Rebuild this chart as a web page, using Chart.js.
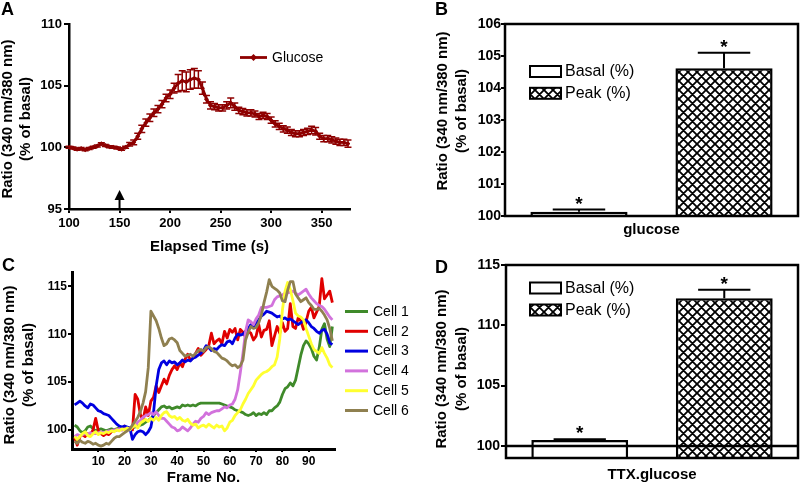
<!DOCTYPE html>
<html>
<head>
<meta charset="utf-8">
<script src="https://cdn.jsdelivr.net/npm/chart.js@4.4.0/dist/chart.umd.min.js"></script>
<style>
body{margin:0;background:#fff;width:800px;height:489px;position:relative;overflow:hidden;font-family:'Liberation Sans',Arial,sans-serif;}
canvas{position:absolute;}
.letter{position:absolute;font-weight:bold;font-size:18px;line-height:18px;color:#000;}
</style>
</head>
<body>
<canvas id="chartA" width="400" height="256" style="left:0;top:0"></canvas>
<canvas id="chartB" width="400" height="250" style="left:400px;top:0"></canvas>
<canvas id="chartC" width="410" height="249" style="left:0;top:240px"></canvas>
<canvas id="chartD" width="400" height="249" style="left:400px;top:240px"></canvas>
<div class="letter" style="left:1px;top:0">A</div>
<div class="letter" style="left:435px;top:0">B</div>
<div class="letter" style="left:2px;top:256px">C</div>
<div class="letter" style="left:435px;top:258px">D</div>
<script>
// =========================================
// DATA
// =========================================

// A: glucose time course (mean +/- SEM)
const timeA = [100,104,108,112,116,120,124,128,132,136,140,144,148,152,156,160,164,168,172,176,
    180,184,188,192,196,200,204,208,212,216,220,224,228,232,236,240,244,248,252,256,
    260,264,268,272,276,280,284,288,292,296,300,304,308,312,316,320,324,328,332,336,
    340,344,348,352,356,360,364,368,372,376];
const glucoseA = [100.0,99.95,99.85,99.9,99.8,99.9,100.0,100.1,100.3,100.15,100.05,100.0,99.95,99.85,100.0,100.25,100.4,100.9,101.5,102.0,
    102.4,102.8,103.1,103.5,104.0,104.3,104.8,105.2,105.4,105.3,105.5,105.6,105.5,104.8,103.9,103.4,103.3,103.2,103.2,103.4,
    103.6,103.3,103.0,102.9,102.8,102.8,102.7,102.5,102.6,102.5,102.2,101.9,101.7,101.5,101.4,101.2,101.1,101.1,101.2,101.3,
    101.4,101.3,100.9,100.7,100.7,100.6,100.5,100.4,100.4,100.3];
const semA = [0.08,0.08,0.08,0.08,0.08,0.08,0.08,0.08,0.08,0.08,0.08,0.08,0.08,0.08,0.08,0.15,0.2,0.25,0.3,0.3,
    0.3,0.3,0.3,0.3,0.3,0.35,0.4,0.7,0.8,0.8,0.8,0.8,0.7,0.5,0.3,0.3,0.25,0.25,0.25,0.3,
    0.4,0.3,0.25,0.25,0.25,0.25,0.25,0.25,0.25,0.25,0.25,0.25,0.25,0.25,0.25,0.25,0.25,0.25,0.25,0.25,
    0.3,0.3,0.25,0.25,0.25,0.25,0.25,0.25,0.25,0.3];
const ticksXA = [100,150,200,250,300,350];
const ticksYA = [95,100,105,110];
const arrowAtA = 150;

// B: glucose bars
const groupB = ['glucose'];
const basalB = [100.13];
const basalErrB = [0.07];
const peakB = [104.62];
const peakErrB = [0.48];
const ticksYB = [100,101,102,103,104,105,106];

// C: single cells
const frameC = [1,2,3,4,5,6,7,8,9,10,11,12,13,14,15,16,17,18,19,20,21,22,23,24,25,26,27,28,29,30,
    31,32,33,34,35,36,37,38,39,40,41,42,43,44,45,46,47,48,49,50,51,52,53,54,55,56,57,58,59,60,
    61,62,63,64,65,66,67,68,69,70,71,72,73,74,75,76,77,78,79,80,81,82,83,84,85,86,87,88,89,90,
    91,92,93,94,95,96,97,98,99];
const cell1 = [100.5,100.3,99.9,99.7,99.9,100.3,100.4,100.1,99.9,100.0,
    100.1,100.0,99.9,100.0,100.1,100.0,100.1,100.2,100.1,100.2,
    100.0,100.1,100.2,100.3,100.4,100.5,100.6,100.8,101.0,101.2,
    101.5,101.8,102.1,102.4,102.5,102.3,102.4,102.2,102.3,102.4,
    102.3,102.6,102.5,102.6,102.5,102.6,102.5,102.7,102.8,102.8,
    102.8,102.8,102.8,102.8,102.8,102.8,102.7,102.6,102.5,102.4,
    102.3,102.1,102.0,101.9,101.8,101.6,101.5,101.6,101.8,101.5,
    101.7,101.6,101.8,101.6,102.0,102.0,102.3,102.5,102.9,103.7,
    104.3,104.5,104.9,104.6,105.2,106.5,107.8,108.8,109.3,109.0,
    108.5,107.7,107.3,108.6,110.5,111.1,109.5,108.7,110.8];
const cell2 = [99.2,98.4,99.3,99.5,99.3,99.6,99.5,100.0,101.2,99.9,
    99.6,99.4,99.6,99.5,99.8,99.9,100.0,100.1,100.0,100.4,
    100.0,100.2,100.0,103.7,103.2,101.6,101.0,102.4,101.5,103.0,
    103.4,104.6,103.9,104.6,105.3,104.8,105.7,106.3,106.7,106.3,
    107.0,106.6,107.4,107.9,107.3,107.5,108.0,108.5,107.8,108.1,
    108.4,108.8,110.1,109.0,109.3,109.5,109.0,110.3,109.6,110.5,
    110.2,110.6,109.4,110.5,110.2,109.7,110.3,110.1,109.4,109.8,
    111.0,109.7,110.4,110.5,111.4,108.8,109.8,110.8,110.1,111.2,
    110.3,110.6,113.2,110.8,110.6,111.7,111.4,110.5,111.3,112.4,
    112.8,111.7,112.3,112.9,115.8,113.7,114.1,114.5,113.3];
const cell3 = [102.6,102.8,103.0,102.8,102.5,102.3,102.7,102.6,102.3,102.0,
    101.9,101.7,101.6,101.5,101.2,100.9,100.6,100.4,100.3,100.4,
    100.3,100.2,99.0,99.5,99.8,99.9,99.8,99.5,99.8,100.3,
    101.8,104.6,106.3,107.0,107.2,106.8,107.2,107.0,107.1,106.8,
    107.0,107.3,107.1,107.3,107.2,107.5,107.6,107.8,108.0,108.3,
    108.8,108.6,108.3,108.5,108.4,108.7,108.9,108.8,109.2,109.3,
    109.0,109.6,110.0,109.9,110.0,110.3,110.6,111.0,110.8,111.2,
    111.5,111.9,112.1,112.4,112.3,112.2,112.0,111.8,111.9,111.6,
    111.7,111.5,111.6,111.4,111.2,111.0,111.2,111.4,111.5,111.2,
    110.8,110.6,110.3,110.1,110.4,110.5,110.0,109.1,108.9];
const cell4 = [99.3,99.5,99.4,99.5,99.6,99.5,99.7,99.6,99.6,99.7,
    99.8,99.7,99.8,99.9,99.9,100.0,100.0,100.1,100.0,100.1,
    100.0,100.2,100.3,100.4,100.8,101.0,101.3,101.5,101.6,101.8,
    101.6,101.9,101.5,101.2,101.2,100.9,100.6,100.3,100.2,99.9,
    100.0,100.3,100.1,99.9,100.2,100.6,100.9,100.8,101.2,101.4,
    101.8,101.6,101.8,101.9,102.0,102.0,102.2,102.4,102.3,102.6,
    102.7,103.2,104.2,106.0,108.0,110.3,111.5,111.3,111.0,111.6,
    112.0,112.8,112.8,112.8,112.9,113.0,113.6,113.9,114.0,114.1,
    114.3,114.3,114.4,114.5,114.3,114.1,114.3,114.5,114.7,114.2,
    113.8,113.5,113.2,113.0,112.9,112.6,112.2,111.8,111.5];
const cell5 = [99.3,99.0,99.3,99.6,99.8,99.4,99.3,99.6,99.8,99.5,
    99.7,99.6,99.8,99.7,99.9,99.8,100.0,99.9,100.1,100.0,
    100.2,100.0,100.3,100.5,100.2,100.7,100.9,101.1,100.9,101.2,
    101.0,101.3,101.0,101.5,101.8,101.9,101.5,101.3,101.4,101.1,
    101.3,101.0,100.9,101.1,100.7,100.5,100.6,100.2,100.4,100.5,
    100.3,100.6,100.4,100.2,100.5,100.3,100.4,99.9,100.2,100.8,
    101.0,101.5,101.8,102.1,102.7,103.2,103.8,104.2,104.6,105.2,
    105.5,105.8,106.0,106.1,106.3,106.6,106.8,107.6,109.5,112.5,
    114.5,115.4,114.7,113.5,112.2,111.9,111.8,111.5,110.6,109.8,
    109.0,108.4,108.2,108.0,108.6,108.0,107.5,106.8,106.5];
const cell6 = [98.8,98.6,98.9,98.7,98.6,98.8,98.7,98.5,98.6,98.4,
    98.3,98.4,98.6,98.5,98.8,99.1,99.3,99.3,99.5,99.7,
    99.9,100.1,100.5,100.9,101.3,101.9,102.8,104.0,106.5,112.4,
    111.9,111.4,110.6,109.6,108.8,109.0,109.5,109.6,109.4,109.1,
    108.3,108.0,107.7,107.8,107.9,107.7,108.0,108.3,108.4,108.2,
    108.6,108.7,108.5,108.2,108.1,107.8,107.5,107.4,107.2,106.9,
    106.7,106.8,106.5,106.7,107.3,109.4,110.2,110.8,110.6,110.7,
    111.2,112.0,113.3,114.4,115.7,115.0,114.8,114.6,114.3,113.5,
    113.4,114.6,115.5,115.5,114.2,113.8,113.4,113.6,113.8,113.3,
    113.0,112.6,112.6,112.7,112.4,112.0,111.5,110.6,109.3];
const cellNames = ['Cell 1','Cell 2','Cell 3','Cell 4','Cell 5','Cell 6'];
const ticksXC = [10,20,30,40,50,60,70,80,90];
const ticksYC = [100,105,110,115];

// D: TTX + glucose bars
const groupD = ['TTX.glucose'];
const basalD = [100.5];
const basalErrD = [0.05];
const peakD = [112.25];
const peakErrD = [0.7];
const ticksYD = [100,105,110,115];

// =========================================
// STYLE
// =========================================

const FONT = "'Liberation Sans', Arial, Helvetica, sans-serif";
const DARKRED = '#8e0000';
const cellColors = ['#3f8a2a','#e00000','#0000e0','#d272dc','#ffff30','#8f8050'];
const yTitle = ['Ratio (340 nm/380 nm)','(% of basal)'];

Chart.defaults.font.family = FONT;
Chart.defaults.color = '#000';

function makeHatch(){
    const c = document.createElement('canvas');
    c.width = 9; c.height = 9;
    const g = c.getContext('2d');
    g.fillStyle = '#fff';
    g.fillRect(0,0,9,9);
    g.strokeStyle = '#000';
    g.lineWidth = 1.8;
    g.beginPath();
    for(const k of [-9,0,9]){
        g.moveTo(k-1,-1); g.lineTo(k+10,10);
        g.moveTo(k+10,-1); g.lineTo(k-1,10);
    }
    g.stroke();
    return g.createPattern(c,'repeat');
}
const hatch = makeHatch();

function drawYTitle(ctx, xs, cy){
    ctx.save();
    ctx.font = 'bold 15px ' + FONT;
    ctx.fillStyle = '#000';
    ctx.textAlign = 'center';
    ctx.textBaseline = 'middle';
    yTitle.forEach((t,i)=>{
        ctx.save();
        ctx.translate(xs[i], cy);
        ctx.rotate(-Math.PI/2);
        ctx.fillText(t,0,0);
        ctx.restore();
    });
    ctx.restore();
}

function fixedTicks(list){
    return function(scale){
        scale.ticks = list.map(v => ({value:v}));
    };
}

function axisY(min, max, list, width, size, tl, pad){
    return {
        min:min, max:max,
        afterFit(s){ s.width = width; },
        afterBuildTicks: fixedTicks(list),
        grid:{drawOnChartArea:false, color:'#000', lineWidth:2, tickLength:tl},
        border:{display:true, color:'#000', width:2.5},
        ticks:{font:{size:size, weight:'bold'}, padding:pad, color:'#000', autoSkip:false}
    };
}

const baseOptions = {
    responsive:false,
    animation:false,
    events:[],
    plugins:{legend:{display:false}, tooltip:{enabled:false}}
};

// =========================================
// PANEL A
// =========================================

const panelA = {
    id:'panelA',
    beforeDatasetsDraw(chart){
        const {ctx, scales:{x, y}} = chart;
        ctx.save();
        ctx.strokeStyle = DARKRED;
        ctx.lineWidth = 1.5;
        timeA.forEach((t,i)=>{
            const px = x.getPixelForValue(t);
            const top = y.getPixelForValue(glucoseA[i] + semA[i]);
            const bot = y.getPixelForValue(glucoseA[i] - semA[i]);
            ctx.beginPath();
            ctx.moveTo(px, top); ctx.lineTo(px, bot);
            ctx.moveTo(px-3.5, top); ctx.lineTo(px+3.5, top);
            ctx.moveTo(px-3.5, bot); ctx.lineTo(px+3.5, bot);
            ctx.stroke();
        });
        ctx.restore();
    },
    afterDraw(chart){
        const {ctx, chartArea, scales:{x}} = chart;
        // arrow at glucose application
        const ax = x.getPixelForValue(arrowAtA);
        const tip = chartArea.bottom - 19;
        ctx.save();
        ctx.strokeStyle = '#000';
        ctx.fillStyle = '#000';
        ctx.lineWidth = 2;
        ctx.beginPath();
        ctx.moveTo(ax, chartArea.bottom);
        ctx.lineTo(ax, tip + 6);
        ctx.stroke();
        ctx.beginPath();
        ctx.moveTo(ax, tip);
        ctx.lineTo(ax - 5, tip + 10);
        ctx.lineTo(ax + 5, tip + 10);
        ctx.closePath();
        ctx.fill();
        // legend
        ctx.strokeStyle = DARKRED;
        ctx.fillStyle = DARKRED;
        ctx.lineWidth = 2.8;
        ctx.beginPath();
        ctx.moveTo(240, 57.5); ctx.lineTo(267, 57.5);
        ctx.stroke();
        ctx.beginPath();
        ctx.moveTo(253.5, 54); ctx.lineTo(257, 57.5); ctx.lineTo(253.5, 61); ctx.lineTo(250, 57.5);
        ctx.closePath();
        ctx.fill();
        ctx.fillStyle = '#000';
        ctx.font = '14px ' + FONT;
        ctx.textBaseline = 'middle';
        ctx.fillText('Glucose', 272, 58);
        ctx.restore();
        drawYTitle(ctx, [8, 26], 119);
    }
};

new Chart(document.getElementById('chartA'), {
    type:'line',
    data:{
        datasets:[{
            label:'Glucose',
            data: timeA.map((t,i)=>({x:t, y:glucoseA[i]})),
            borderColor:DARKRED,
            backgroundColor:DARKRED,
            borderWidth:2.8,
            pointStyle:'rectRot',
            pointRadius:2.5,
            pointBorderWidth:0,
            tension:0
        }]
    },
    options:{
        ...baseOptions,
        layout:{padding:{top:24, right:50, left:0, bottom:0}},
        scales:{
            x:{
                type:'linear', min:100, max:378,
                afterFit(s){ s.height = 47; },
                afterBuildTicks: fixedTicks(ticksXA),
                grid:{drawOnChartArea:false, color:'#000', lineWidth:2, tickLength:4},
                border:{display:true, color:'#000', width:2.5},
                ticks:{font:{size:13, weight:'bold'}, padding:3, maxRotation:0, autoSkip:false, color:'#000'},
                title:{display:true, text:'Elapsed Time (s)', font:{size:15, weight:'bold'}, padding:0, color:'#000'}
            },
            y: axisY(95, 110, ticksYA, 69, 13, 5, 2)
        }
    },
    plugins:[panelA]
});

// =========================================
// BAR PANELS (B, D)
// =========================================

function barPanel(id, basal, basalErr, peak, peakErr, legendY, titleXs, titleY, baseLine){
    return {
        id:id,
        afterDatasetsDraw(chart){
            const {ctx, chartArea:a, scales:{y}} = chart;
            ctx.save();
            ctx.strokeStyle = '#000';
            ctx.fillStyle = '#000';
            if(baseLine !== null){
                ctx.lineWidth = 2.5;
                const by = y.getPixelForValue(baseLine);
                ctx.beginPath();
                ctx.moveTo(a.left, by); ctx.lineTo(a.right, by);
                ctx.stroke();
            }
            ctx.lineWidth = 2.5;
            ctx.strokeRect(a.left, a.top, a.right - a.left, a.bottom - a.top);
            // error bars + asterisks
            const sets = [[basal, basalErr], [peak, peakErr]];
            ctx.lineWidth = 2;
            ctx.font = 'bold 19px ' + FONT;
            ctx.textAlign = 'center';
            ctx.textBaseline = 'alphabetic';
            sets.forEach((s,i)=>{
                const bar = chart.getDatasetMeta(i).data[0];
                const top = y.getPixelForValue(s[0][0] + s[1][0]);
                const half = bar.width * 0.27;
                ctx.beginPath();
                ctx.moveTo(bar.x, bar.y); ctx.lineTo(bar.x, top);
                ctx.moveTo(bar.x - half, top); ctx.lineTo(bar.x + half, top);
                ctx.stroke();
                ctx.fillText('*', bar.x, top);
            });
            // legend
            ctx.textAlign = 'left';
            ctx.textBaseline = 'middle';
            ctx.font = '16px ' + FONT;
            const labels = ['Basal (%)', 'Peak (%)'];
            const fills = ['#fff', hatch];
            labels.forEach((t,i)=>{
                const cy = legendY[i];
                ctx.fillStyle = fills[i];
                ctx.fillRect(130, cy - 5.5, 31, 11);
                ctx.lineWidth = 2;
                ctx.strokeRect(130, cy - 5.5, 31, 11);
                ctx.fillStyle = '#000';
                ctx.fillText(t, 165, cy + 0.5);
            });
            ctx.restore();
            drawYTitle(ctx, titleXs, titleY);
        }
    };
}

function barChart(canvasId, group, basal, peak, min, max, ticks, yWidth, xHeight, tl, pad, xPad, topPad, plugin){
    return new Chart(document.getElementById(canvasId), {
        type:'bar',
        data:{
            labels:group,
            datasets:[
                {label:'Basal (%)', data:basal, backgroundColor:'#fff', borderColor:'#000', borderWidth:2.5,
                 categoryPercentage:0.99, barPercentage:0.67},
                {label:'Peak (%)', data:peak, backgroundColor:hatch, borderColor:'#000', borderWidth:2.5,
                 categoryPercentage:0.99, barPercentage:0.67}
            ]
        },
        options:{
            ...baseOptions,
            layout:{padding:{top:topPad, right:2, left:0, bottom:0}},
            scales:{
                x:{
                    afterFit(s){ s.height = xHeight; },
                    grid:{display:false, drawTicks:false},
                    border:{display:false},
                    ticks:{font:{size:15, weight:'bold'}, padding:xPad, color:'#000'}
                },
                y:{
                    ...axisY(min, max, ticks, yWidth, 14, tl, pad),
                    border:{display:false}
                }
            }
        },
        plugins:[plugin]
    });
}

barChart('chartB', groupB, basalB, peakB, 100, 106, ticksYB, 105, 34, 4, 0, 5, 24,
    barPanel('panelB', basalB, basalErrB, peakB, peakErrB, [71.5, 93.3], [43, 62], 111, null));

barChart('chartD', groupD, basalD, peakD, 99, 115, ticksYD, 106, 31, 5, 1, 8, 25,
    barPanel('panelD', basalD, basalErrD, peakD, peakErrD, [48, 70], [42, 62], 129, 100));

// =========================================
// PANEL C
// =========================================

const cells = [cell1, cell2, cell3, cell4, cell5, cell6];

const panelC = {
    id:'panelC',
    afterDraw(chart){
        const {ctx} = chart;
        ctx.save();
        ctx.font = '14px ' + FONT;
        ctx.textBaseline = 'middle';
        cellNames.forEach((n,i)=>{
            const cy = 71.5 + i * 19.8;
            ctx.strokeStyle = cellColors[i];
            ctx.lineWidth = 3;
            ctx.beginPath();
            ctx.moveTo(345, cy); ctx.lineTo(368, cy);
            ctx.stroke();
            ctx.fillStyle = '#000';
            ctx.fillText(n, 373, cy + 0.5);
        });
        ctx.restore();
        drawYTitle(ctx, [10, 29], 125);
    }
};

new Chart(document.getElementById('chartC'), {
    type:'line',
    data:{
        datasets: cells.map((vals,i)=>({
            label:cellNames[i],
            data: frameC.map((f,j)=>({x:f, y:vals[j]})),
            borderColor:cellColors[i],
            borderWidth:2.8,
            pointRadius:0,
            tension:0,
            borderJoinStyle:'round',
            order:5 - i
        }))
    },
    options:{
        ...baseOptions,
        layout:{padding:{top:32, right:75, left:0, bottom:0}},
        scales:{
            x:{
                type:'linear', min:0, max:100,
                afterFit(s){ s.height = 40; },
                afterBuildTicks: fixedTicks(ticksXC),
                grid:{drawOnChartArea:false, color:'#000', lineWidth:2, tickLength:3},
                border:{display:true, color:'#000', width:3},
                ticks:{font:{size:12, weight:'bold'}, padding:2, maxRotation:0, autoSkip:false, color:'#000'},
                title:{display:true, text:'Frame No.', font:{size:15, weight:'bold'}, padding:{top:0, bottom:2}, color:'#000'}
            },
            y:{
                ...axisY(98, 116.5, ticksYC, 72, 12, 4, 1),
                border:{display:true, color:'#000', width:3}
            }
        }
    },
    plugins:[panelC]
});
</script>
</body>
</html>
